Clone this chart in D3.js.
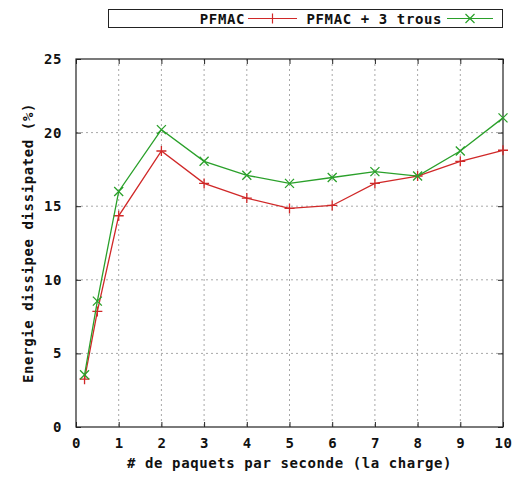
<!DOCTYPE html>
<html>
<head>
<meta charset="utf-8">
<script src="https://cdn.jsdelivr.net/npm/d3@7"></script>
<style>
  body { margin: 0; background: #fff; }
  text { font-family: "DejaVu Sans Mono", monospace; font-weight: bold; font-size: 14px; letter-spacing: 0.6px; fill: #111; }
</style>
</head>
<body>
<script>
// charge (paquets / seconde)
var charge = [0.2, 0.5, 1, 2, 3, 4, 5, 6, 7, 8, 9, 10];
// energie dissipee (%)
var pfmac = [3.25, 7.85, 14.35, 18.75, 16.55, 15.55, 14.85, 15.05, 16.55, 17.05, 18.05, 18.8];
var pfmacTrous = [3.55, 8.55, 16.0, 20.2, 18.05, 17.1, 16.55, 16.95, 17.35, 17.05, 18.75, 21.0];
var seriesNames = ["PFMAC", "PFMAC + 3 trous"];
var xTicks = [0, 1, 2, 3, 4, 5, 6, 7, 8, 9, 10];
var yTicks = [0, 5, 10, 15, 20, 25];

var W = 516, H = 483;
var margin = { top: 59, right: 13, bottom: 56, left: 76 };
var width = W - margin.left - margin.right,
    height = H - margin.top - margin.bottom;

var svg = d3.select("body").append("svg")
    .attr("width", W)
    .attr("height", H);

var g = svg.append("g")
    .attr("transform", "translate(" + margin.left + "," + margin.top + ")");

var x = d3.scaleLinear().domain([0, 10]).range([0, width]);
var y = d3.scaleLinear().domain([0, 25]).range([height, 0]);

// grid
g.selectAll(".vgrid")
    .data(xTicks.slice(1, -1))
  .enter().append("line")
    .attr("x1", function (d) { return x(d); })
    .attr("x2", function (d) { return x(d); })
    .attr("y1", 0).attr("y2", height)
    .attr("stroke", "#a8a8a8")
    .attr("stroke-dasharray", "2,3");

g.selectAll(".hgrid")
    .data(yTicks.slice(1, -1))
  .enter().append("line")
    .attr("y1", function (d) { return y(d); })
    .attr("y2", function (d) { return y(d); })
    .attr("x1", 0).attr("x2", width)
    .attr("stroke", "#a8a8a8")
    .attr("stroke-dasharray", "2,3");

// axes, ticks inside on all four sides
var tickLen = 5;
var bottomAxis = g.append("g").attr("transform", "translate(0," + height + ")")
    .call(d3.axisBottom(x).tickValues(xTicks).tickSize(-tickLen).tickPadding(11).tickFormat(d3.format("d")));
var topAxis = g.append("g")
    .call(d3.axisTop(x).tickValues(xTicks).tickSize(-tickLen).tickFormat(""));
var leftAxis = g.append("g")
    .call(d3.axisLeft(y).tickValues(yTicks).tickSize(-tickLen).tickPadding(14).tickFormat(d3.format("d")));
var rightAxis = g.append("g").attr("transform", "translate(" + width + ",0)")
    .call(d3.axisRight(y).tickValues(yTicks).tickSize(-tickLen).tickFormat(""));

[bottomAxis, topAxis, leftAxis, rightAxis].forEach(function (a) {
  a.select(".domain").remove();
  a.selectAll(".tick line").attr("stroke", "#222");
  a.selectAll("text").attr("font-family", null).attr("font-size", null).attr("fill", "#111");
});

g.append("rect")
    .attr("width", width)
    .attr("height", height)
    .attr("fill", "none")
    .attr("stroke", "#222")
    .attr("stroke-width", 1.2);

// series
var colors = ["#d02828", "#2aa02a"];
var datasets = [pfmac, pfmacTrous];

var line = d3.line()
    .x(function (d) { return x(d[0]); })
    .y(function (d) { return y(d[1]); });

function plusPath(s) { return "M" + (-s) + ",0H" + s + "M0," + (-s) + "V" + s; }
function crossPath(s) { return "M" + (-s) + "," + (-s) + "L" + s + "," + s + "M" + (-s) + "," + s + "L" + s + "," + (-s); }
var markers = [plusPath(5), crossPath(4.5)];

datasets.forEach(function (vals, i) {
  var pts = charge.map(function (c, j) { return [c, vals[j]]; });
  g.append("path")
      .datum(pts)
      .attr("fill", "none")
      .attr("stroke", colors[i])
      .attr("stroke-width", 1.3)
      .attr("d", line);
  g.selectAll(".m" + i)
      .data(pts)
    .enter().append("path")
      .attr("transform", function (d) { return "translate(" + x(d[0]) + "," + y(d[1]) + ")"; })
      .attr("d", markers[i])
      .attr("fill", "none")
      .attr("stroke", colors[i])
      .attr("stroke-width", 1.3);
});

// axis titles
svg.append("text")
    .attr("x", margin.left + width / 2)
    .attr("y", 468)
    .attr("text-anchor", "middle")
    .text("# de paquets par seconde (la charge)");

svg.append("text")
    .attr("transform", "translate(33," + (margin.top + height / 2) + ") rotate(-90)")
    .attr("text-anchor", "middle")
    .text("Energie dissipee dissipated (%)");

// legend
var legend = svg.append("g");
legend.append("rect")
    .attr("x", 108.5).attr("y", 9.5)
    .attr("width", 394).attr("height", 18)
    .attr("fill", "#fff")
    .attr("stroke", "#222");

var legendItems = [
  { textEnd: 245, s0: 248, s1: 297 },
  { textEnd: 442, s0: 447, s1: 493 }
];
legendItems.forEach(function (it, i) {
  legend.append("text")
      .attr("x", it.textEnd)
      .attr("y", 23.5)
      .attr("text-anchor", "end")
      .text(seriesNames[i]);
  legend.append("line")
      .attr("x1", it.s0).attr("x2", it.s1)
      .attr("y1", 18.5).attr("y2", 18.5)
      .attr("stroke", colors[i])
      .attr("stroke-width", 1.2);
  legend.append("path")
      .attr("transform", "translate(" + ((it.s0 + it.s1) / 2) + ",18.5)")
      .attr("d", markers[i])
      .attr("fill", "none")
      .attr("stroke", colors[i])
      .attr("stroke-width", 1.2);
});
</script>
</body>
</html>
